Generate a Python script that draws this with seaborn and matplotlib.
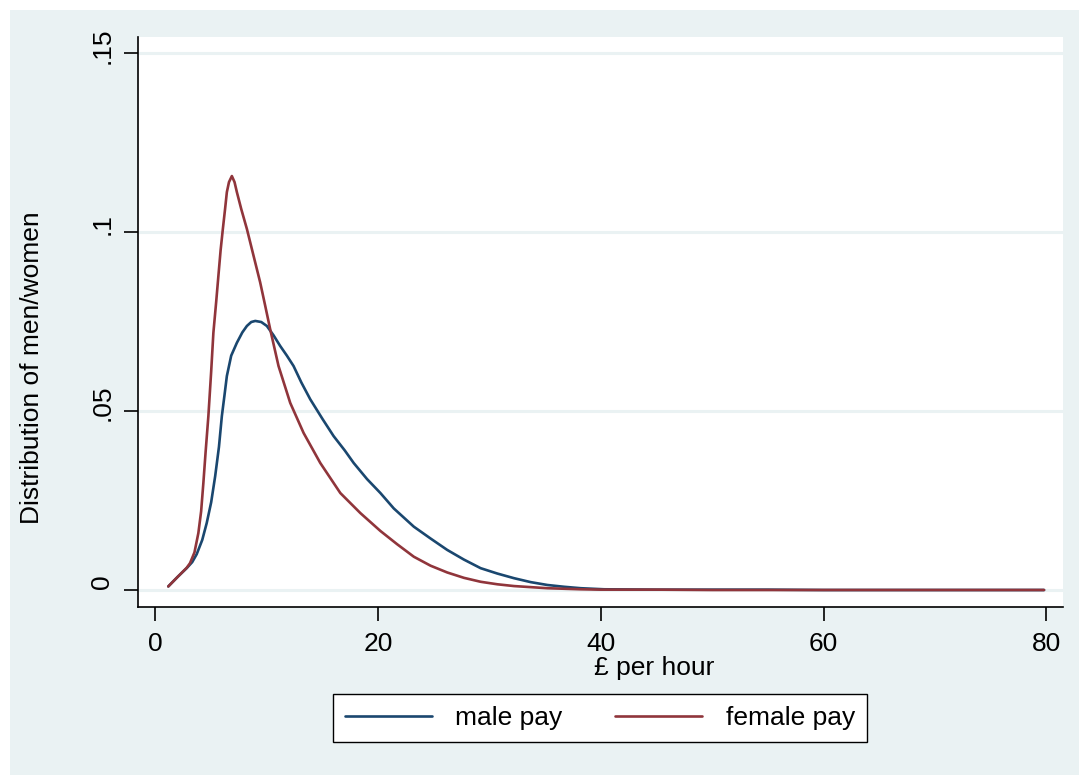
import matplotlib
matplotlib.use("Agg")
import matplotlib.pyplot as plt
import matplotlib.patches as mpatches
import matplotlib.transforms as mtransforms
import numpy as np
import pandas as pd
import seaborn as sns

# ---- data ----
male_x = [1.15, 2.0, 2.8, 3.3, 3.7, 4.2, 4.6, 5.0, 5.36, 5.7, 5.96, 6.2, 6.41, 6.8, 7.31,
          7.8, 8.21, 8.6, 8.96, 9.5, 10.0, 10.6, 11.2, 11.8, 12.4, 13.1, 13.9, 15.0, 16.0,
          17.0, 17.8, 19.0, 20.2, 21.4, 23.2, 24.7, 26.2, 27.7, 29.2, 30.7, 32.2, 33.7,
          35.2, 36.7, 38.2, 40.3, 45, 50, 55, 60, 65, 70, 75, 79.8]
male_y = [0.001, 0.0037, 0.0061, 0.0078, 0.0100, 0.0140, 0.0187, 0.0245, 0.0318, 0.0400,
          0.0486, 0.0545, 0.0598, 0.0655, 0.0691, 0.0720, 0.0738, 0.0749, 0.0752, 0.0749,
          0.0738, 0.0712, 0.0682, 0.0655, 0.0626, 0.0580, 0.0533, 0.0478, 0.0430, 0.0390,
          0.0355, 0.0310, 0.0271, 0.0228, 0.0177, 0.0144, 0.0112, 0.0085, 0.0061, 0.0046,
          0.0033, 0.0022, 0.0014, 0.0009, 0.0005, 0.0002, 0.0001, 0.0001, 0.0001, 0.0,
          0.0, 0.0, 0.0, 0.0]

female_x = [1.15, 2.0, 2.8, 3.1, 3.5, 3.85, 4.1, 4.3, 4.5, 4.75, 5.0, 5.2, 5.45, 5.65, 5.85,
            6.05, 6.25, 6.41, 6.6, 6.86, 7.1, 7.31, 7.7, 8.21, 8.8, 9.4, 9.85, 10.3, 11.05,
            12.1, 13.3, 14.8, 16.6, 18.4, 20.2, 21.7, 23.2, 24.7, 26.2, 27.7, 29.2, 30.7,
            32.2, 35.2, 38.2, 40, 45, 50, 55, 60, 65, 70, 75, 79.8]
female_y = [0.001, 0.0037, 0.0062, 0.0075, 0.0105, 0.0159, 0.0220, 0.0299, 0.0385, 0.0486,
            0.0610, 0.0719, 0.0805, 0.0878, 0.0950, 0.1009, 0.1065, 0.1112, 0.1140, 0.1157,
            0.1140, 0.1112, 0.1065, 0.1009, 0.0935, 0.0860, 0.0795, 0.0729, 0.0626, 0.0523,
            0.0439, 0.0355, 0.0271, 0.0215, 0.0165, 0.0128, 0.0093, 0.0068, 0.0049, 0.0034,
            0.0023, 0.0016, 0.0011, 0.0005, 0.0002, 0.0001, 0.0001, 0.0, 0.0, 0.0, 0.0,
            0.0, 0.0, 0.0]

series_names = ["male pay", "female pay"]
x_ticks = [0, 20, 40, 60, 80]
y_ticks = [0, 0.05, 0.10, 0.15]
y_tick_labels = ["0", ".05", ".1", ".15"]

df = pd.concat([
    pd.DataFrame({"x": male_x, "y": male_y, "series": series_names[0]}),
    pd.DataFrame({"x": female_x, "y": female_y, "series": series_names[1]}),
], ignore_index=True)

# ---- style ----
sns.set_theme(style="white")
plt.rcParams["font.family"] = ["Liberation Sans", "DejaVu Sans"]
plt.rcParams["text.color"] = "black"
plt.rcParams["axes.labelcolor"] = "black"
plt.rcParams["xtick.color"] = "black"
plt.rcParams["ytick.color"] = "black"

BG = "#EAF2F3"
NAVY = "#1A476F"
MAROON = "#90353B"
FS = 19

fig = plt.figure(figsize=(10.79, 7.75), dpi=100)
fig.patch.set_facecolor("white")
fig.patches.append(mpatches.Rectangle((10 / 1079, 0), 1 - 10 / 1079, 1 - 10 / 775,
                                      transform=fig.transFigure, facecolor=BG,
                                      edgecolor="none", zorder=-10))

ax = fig.add_axes([138 / 1079, 1 - 607 / 775, (1063 - 138) / 1079, (607 - 37) / 775])
ax.set_facecolor("white")

for yv in y_ticks:
    ax.axhline(yv, color=BG, lw=2.2, zorder=0)

sns.lineplot(data=df, x="x", y="y", hue="series", hue_order=series_names,
             palette=[NAVY, MAROON], sort=False, estimator=None, lw=1.9, ax=ax,
             legend=False)

ax.set_xlim(-1.57, 81.5)
ax.set_ylim(-0.00475, 0.15456)
ax.set_xticks(x_ticks)
ax.set_xticklabels([str(t) for t in x_ticks], fontsize=FS, color="black")
ax.set_yticks(y_ticks)
ax.set_yticklabels(y_tick_labels, fontsize=FS, rotation=90, va="center", color="black")
ax.tick_params(axis="both", direction="out", length=10, width=1.2, color="black",
               labelcolor="black", bottom=True, left=True)
ax.tick_params(axis="x", pad=8)
ax.tick_params(axis="y", pad=7)

# Stata places the rotated y tick labels slightly above their ticks
shift = mtransforms.ScaledTranslation(0, 8 / 100, fig.dpi_scale_trans)
for lab in ax.get_yticklabels():
    lab.set_transform(lab.get_transform() + shift)

for side in ["top", "right"]:
    ax.spines[side].set_visible(False)
for side in ["left", "bottom"]:
    ax.spines[side].set_visible(True)
    ax.spines[side].set_color("black")
    ax.spines[side].set_linewidth(1.2)

ax.set_xlabel("£ per hour", fontsize=FS, color="black")
ax.set_ylabel("Distribution of men/women", fontsize=FS, color="black")
ax.xaxis.set_label_coords(0.558, -0.086)
ax.yaxis.set_label_coords(-0.102, 0.42)

handles = [plt.Line2D([], [], color=NAVY, lw=1.9),
           plt.Line2D([], [], color=MAROON, lw=1.9)]
leg = fig.legend(handles, series_names, loc="center",
                 bbox_to_anchor=(600 / 1079, 1 - 718 / 775), ncol=2,
                 fontsize=FS, frameon=True, fancybox=False, handlelength=3.3,
                 handletextpad=0.9, columnspacing=2.0, borderpad=0.45)
leg.get_frame().set_edgecolor("black")
leg.get_frame().set_linewidth(1.0)
leg.get_frame().set_facecolor("white")
leg.get_frame().set_alpha(1.0)
for t in leg.get_texts():
    t.set_color("black")

fig.savefig("out.png", dpi=100, facecolor=fig.get_facecolor())
